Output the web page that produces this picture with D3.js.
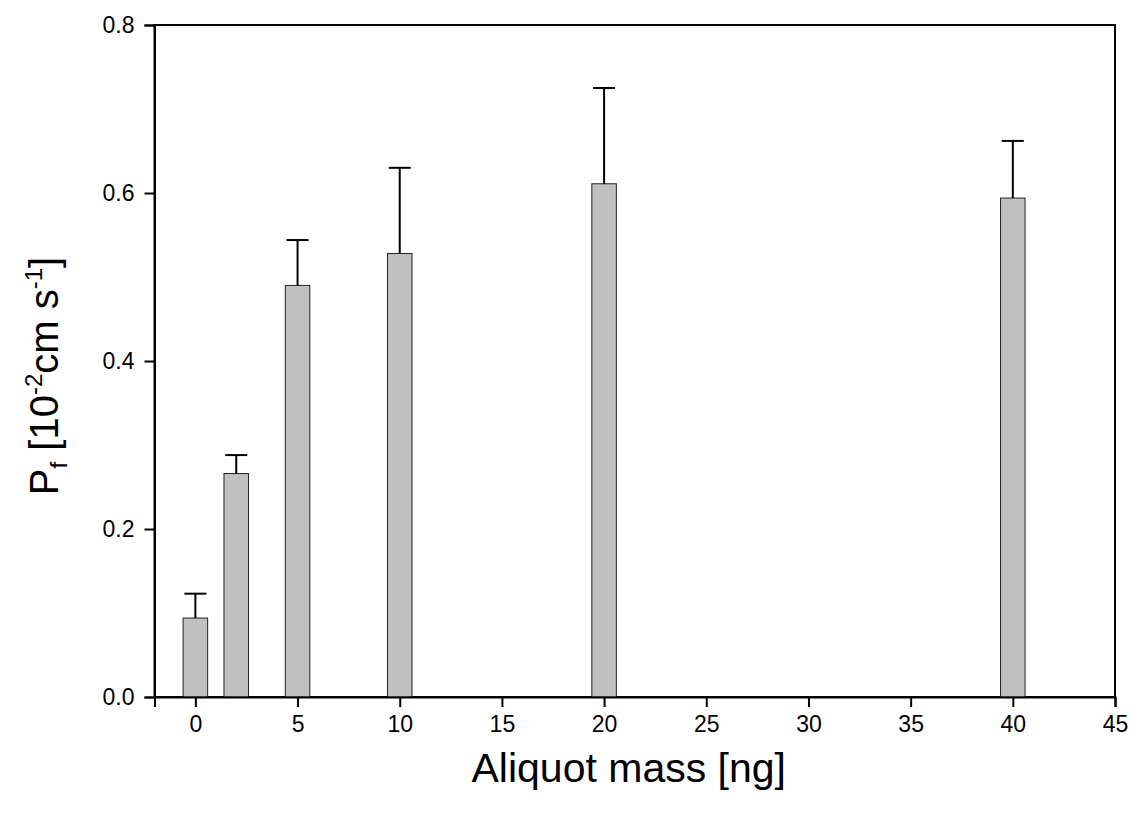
<!DOCTYPE html>
<html>
<head>
<meta charset="utf-8">
<script src="https://cdn.jsdelivr.net/npm/d3@7"></script>
<style>
  body { margin: 0; background: #fff; }
  text { font-family: "Liberation Sans", Arial, sans-serif; fill: #000; }
</style>
</head>
<body>
<div id="chart"></div>
<script>
const width = 1137;
const height = 818;

// data
const masses = [0, 2, 5, 10, 20, 40];
const pfMeans = [0.094, 0.266, 0.490, 0.528, 0.611, 0.594];
const pfErrors = [0.029, 0.022, 0.054, 0.102, 0.114, 0.068];
const xTicks = [0, 5, 10, 15, 20, 25, 30, 35, 40, 45];
const yTicks = [0, 0.2, 0.4, 0.6, 0.8];

const margin = { top: 25, right: 22, bottom: 121, left: 154.5 };
const barWidth = 1.2; // in ng units

const svg = d3.select("#chart").append("svg").attr("width", width).attr("height", height);

const x = d3.scaleLinear().domain([-2, 45]).range([margin.left, width - margin.right]);
const y = d3.scaleLinear().domain([0, 0.8]).range([height - margin.bottom, margin.top]);

// frame
svg.append("rect")
  .attr("x", x(-2))
  .attr("y", y(0.8))
  .attr("width", x(45) - x(-2))
  .attr("height", y(0) - y(0.8))
  .attr("fill", "none")
  .attr("stroke", "#000")
  .attr("stroke-width", 2);

// bars
svg.append("g")
  .selectAll("rect")
  .data(masses)
  .enter()
  .append("rect")
  .attr("x", (d) => x(d - barWidth / 2))
  .attr("y", (d, i) => y(pfMeans[i]))
  .attr("width", x(barWidth) - x(0))
  .attr("height", (d, i) => y(0) - y(pfMeans[i]))
  .attr("fill", "#c0c0c0")
  .attr("stroke", "#222")
  .attr("stroke-width", 1);

// error bars (upper only)
const err = svg.append("g").attr("stroke", "#000").attr("stroke-width", 2);
masses.forEach((m, i) => {
  err.append("line")
    .attr("x1", x(m)).attr("x2", x(m))
    .attr("y1", y(pfMeans[i])).attr("y2", y(pfMeans[i] + pfErrors[i]));
  err.append("line")
    .attr("x1", x(m) - 11).attr("x2", x(m) + 11)
    .attr("y1", y(pfMeans[i] + pfErrors[i])).attr("y2", y(pfMeans[i] + pfErrors[i]));
});

// axes
const xAxis = svg.append("g")
  .attr("transform", `translate(0,${y(0)})`)
  .call(d3.axisBottom(x).tickValues(xTicks).tickSize(10).tickPadding(9).tickFormat(d3.format("d")));
const yAxis = svg.append("g")
  .attr("transform", `translate(${x(-2)},0)`)
  .call(d3.axisLeft(y).tickValues(yTicks).tickSize(10).tickPadding(10).tickFormat(d3.format(".1f")));

[xAxis, yAxis].forEach((g) => {
  g.attr("font-size", 23).attr("font-family", "Liberation Sans, Arial, sans-serif");
  g.select(".domain").attr("stroke-width", 2);
  g.selectAll(".tick line").attr("stroke-width", 2);
  g.selectAll(".tick text").style("font-size", "23px");
});

// axis titles
svg.append("text")
  .attr("x", (x(-2) + x(45)) / 2 - 6)
  .attr("y", 782)
  .attr("text-anchor", "middle")
  .style("font-size", "41px")
  .text("Aliquot mass [ng]");

const yLabel = svg.append("text")
  .attr("transform", `translate(58,${(y(0) + y(0.8)) / 2 + 15}) rotate(-90)`)
  .attr("text-anchor", "middle")
  .style("font-size", "40px");
yLabel.append("tspan").text("P");
yLabel.append("tspan").style("font-size", "24px").attr("dy", 9).text("f");
yLabel.append("tspan").attr("dy", -9).text(" [10");
yLabel.append("tspan").style("font-size", "24px").attr("dy", -16).text("-2");
yLabel.append("tspan").attr("dy", 16).text("cm s");
yLabel.append("tspan").style("font-size", "24px").attr("dy", -16).text("-1");
yLabel.append("tspan").attr("dy", 16).text("]");
</script>
</body>
</html>
